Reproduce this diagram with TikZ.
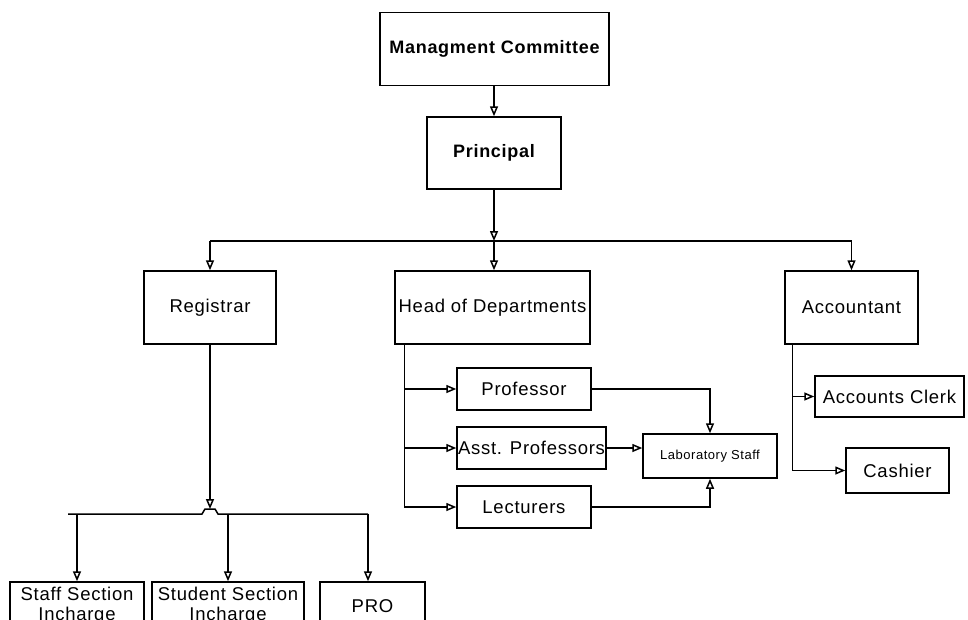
\documentclass[tikz,border=0pt]{standalone}
\usepackage{fontspec}
\setmainfont{Liberation Sans}[LetterSpace=4]
\usetikzlibrary{arrows.meta,calc}

\begin{document}
\begin{tikzpicture}[x=1pt,y=-1pt,line width=1.5pt,
  box/.style={draw,line width=1.5pt,inner sep=0pt,align=center,font=\fontsize{18.5}{20}\selectfont},
  headbox/.style={box,font=\fontsize{18}{20}\selectfont\bfseries},
  link/.style={-{Triangle[open,length=10pt,width=8pt]}}]
\fill[white] (0,0) rectangle (968,619);
\useasboundingbox (0,0) rectangle (968,619);
\clip (0,0) rectangle (968,619);
% top of the chart
\node[headbox,minimum width=229pt,minimum height=73pt] (mc) at (494.5,49) {Managment Committee};
\node[headbox,minimum width=134pt,minimum height=72pt] (prin) at (494,153) {Principal};
\node[box,minimum width=132pt,minimum height=73pt] (reg) at (210,307.5) {Registrar};
\node[box,minimum width=195pt,minimum height=73pt] (hod) at (492.5,307.5) {Head of Departments};
\node[box,minimum width=133pt,minimum height=73pt] (acc) at (851.5,307.5) {Accountant};
% departments
\node[box,minimum width=134pt,minimum height=42pt] (prof) at (524,389) {Professor};
\node[box,minimum width=149pt,minimum height=42pt] (asst) at (531.5,448) {Asst. Professors};
\node[box,minimum width=134pt,minimum height=42pt] (lect) at (524,507) {Lecturers};
\node[box,minimum width=134pt,minimum height=44pt,font=\fontsize{13}{15}\selectfont] (lab) at (710,456) {Laboratory Staff};
% accounts
\node[box,minimum width=149pt,minimum height=41pt] (clerk) at (889.5,396.5) {Accounts Clerk};
\node[box,minimum width=103pt,minimum height=45pt] (cash) at (897.5,470.5) {Cashier};
% registrar's sections
\node[box,minimum width=134pt,minimum height=48pt] (staff) at (77,606) {Staff Section\\Incharge};
\node[box,minimum width=152pt,minimum height=48pt] (stud) at (228,606) {Student Section\\Incharge};
\node[box,minimum width=105pt,minimum height=48pt] (pro) at (372.5,606) {PRO};

\coordinate (busc) at (494,241);
\coordinate (busl) at (210,241);
\coordinate (busr) at (851.5,241);
\coordinate (hodtrunk) at ($(hod.south west)+(10,0)$);
\coordinate (acctrunk) at ($(acc.south west)+(8,0)$);
\coordinate (regjoin) at (210,509);
\coordinate (rbl) at (68,514);
\coordinate (rbr) at (368,514);

\draw[link] (mc.south -| prin.north) -- (prin.north);
\draw[link] (prin.south) -- (busc);
\draw (busl) -- (busr);
\draw[link] (busl) -- (reg.north);
\draw[link] (busc) -- (busc |- hod.north);
\draw[link] (busr) -- (acc.north);

\draw[link] (hodtrunk) |- (lect.west);
\draw[link] (hodtrunk |- prof.west) -- (prof.west);
\draw[link] (hodtrunk |- asst.west) -- (asst.west);
\draw[link] (prof.east) -| (lab.north);
\draw[link] (asst.east) -- (asst.east -| lab.west);
\draw[link] (lect.east) -| (lab.south);

\draw[link] (acctrunk) |- (cash.west);
\draw[link] (acctrunk |- clerk.west) -- (clerk.west);

\draw[link] (reg.south) -- (regjoin);
\draw (rbl) -- ++(134,0) -- ++(3,-5) -- ++(10,0) -- ++(3,5) -- (rbr);
\draw[link] (staff.north |- rbl) -- (staff.north);
\draw[link] (stud.north |- rbl) -- (stud.north);
\draw[link] (rbr) -- (rbr |- pro.north);
\end{tikzpicture}
\end{document}
